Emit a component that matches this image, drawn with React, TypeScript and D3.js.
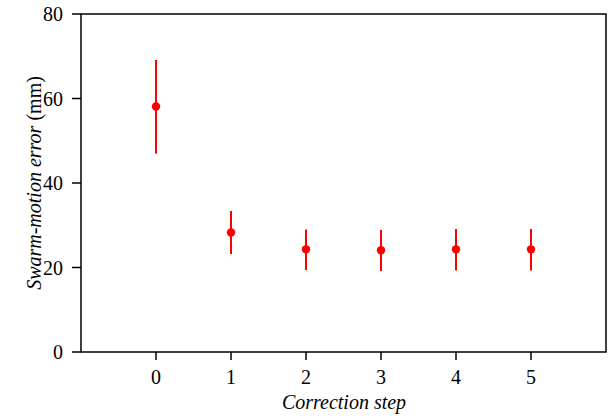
import React from "react";
import * as d3 from "d3";

const steps = [0, 1, 2, 3, 4, 5];
const means = [58.1, 28.3, 24.3, 24.1, 24.3, 24.3];
const upper = [69.1, 33.4, 29.0, 28.9, 29.1, 29.1];
const lower = [47.0, 23.2, 19.4, 19.2, 19.3, 19.3];
const yTicks = [0, 20, 40, 60, 80];

const W = 611, H = 418;
const L = 81, R = 606, T = 14, B = 352;
const FONT = "'Liberation Serif', 'Times New Roman', serif";

export default function App() {
  const x = d3.scaleLinear().domain([-1, 6]).range([L, R]);
  const y = d3.scaleLinear().domain([0, 80]).range([B, T]);
  return (
    <svg width={W} height={H} style={{ position: "absolute", left: 0, top: 0, fontFamily: FONT }}>
      <rect x={0} y={0} width={W} height={H} fill="white" />
      {steps.map((s, i) => (
        <g key={s}>
          <line x1={x(s)} x2={x(s)} y1={y(upper[i])} y2={y(lower[i])} stroke="#ff0000" strokeWidth={2} />
          <circle cx={x(s)} cy={y(means[i])} r={4.2} fill="#ff0000" />
        </g>
      ))}
      <rect x={L} y={T} width={R - L} height={B - T} fill="none" stroke="black" strokeWidth={1.5} />
      {yTicks.map((t) => (
        <g key={t}>
          <line x1={L - 9} x2={L} y1={y(t)} y2={y(t)} stroke="black" strokeWidth={1.5} />
          <text x={L - 18} y={y(t) + 7} textAnchor="end" fontSize={20}>{t}</text>
        </g>
      ))}
      {steps.map((t) => (
        <g key={t}>
          <line x1={x(t)} x2={x(t)} y1={B} y2={B + 8} stroke="black" strokeWidth={1.5} />
          <text x={x(t)} y={384} textAnchor="middle" fontSize={20}>{t}</text>
        </g>
      ))}
      <text x={(L + R) / 2 + 0.5} y={409} textAnchor="middle" fontSize={20} fontStyle="italic">Correction step</text>
      <text transform={`translate(41, ${(T + B) / 2}) rotate(-90)`} textAnchor="middle" fontSize={20}>
        <tspan fontStyle="italic">Swarm-motion error</tspan>
        <tspan> (mm)</tspan>
      </text>
    </svg>
  );
}
